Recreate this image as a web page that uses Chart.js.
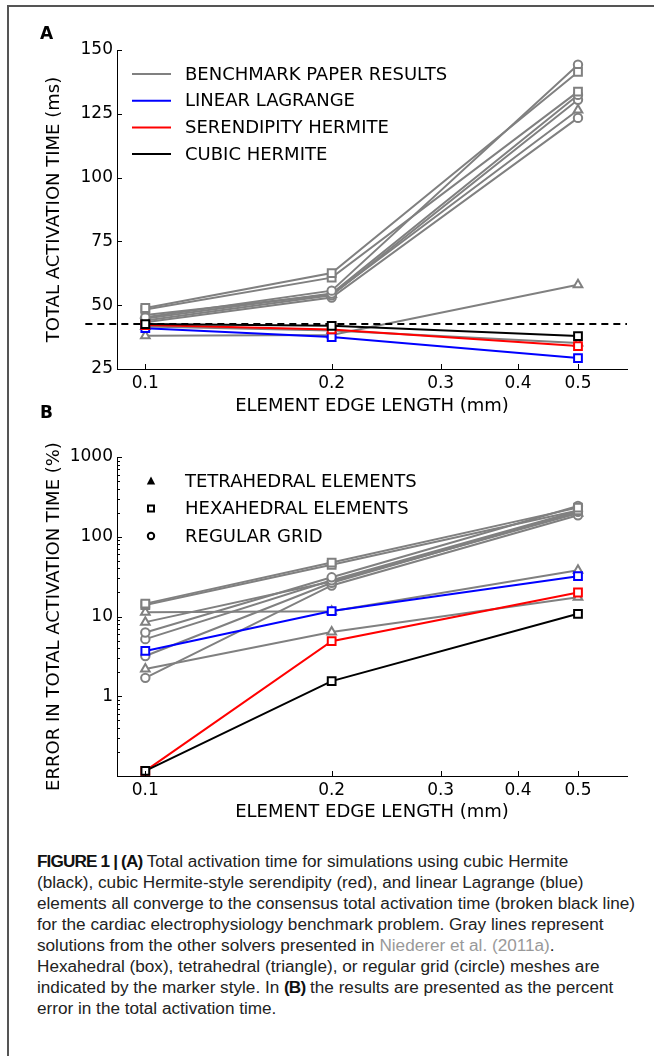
<!DOCTYPE html>
<html>
<head>
<meta charset="utf-8">
<script src="https://cdn.jsdelivr.net/npm/chart.js@4.4.0/dist/chart.umd.min.js"></script>
<style>
  html, body { margin: 0; padding: 0; background: #fff; }
  body { width: 654px; height: 1056px; position: relative; overflow: hidden; }
  #frame { position: absolute; left: 7px; top: 5px; width: 700px; height: 1100px;
           border-top: 2px solid #555; border-left: 2px solid #555; }
  canvas { position: absolute; left: 0; }
  .plabel { position: absolute; font: bold 17px "DejaVu Sans"; line-height: 20px; color: #000; }
  #caption { position: absolute; left: 37px; top: 851px; font: 16px "Liberation Sans", Arial, sans-serif;
             line-height: 21px; color: #222; white-space: nowrap; transform-origin: 0 0; }
  #caption b { font-weight: bold; color: #111; letter-spacing: -0.8px; }
  #caption .ref { color: #999; }
</style>
</head>
<body>
<div id="frame"></div>
<canvas id="chartA" width="654" height="425" style="top:0"></canvas>
<canvas id="chartB" width="654" height="405" style="top:425px"></canvas>
<div class="plabel" style="left:40px; top:23px">A</div>
<div class="plabel" style="left:40px; top:402px">B</div>
<div id="caption">
  <div><b>FIGURE 1 | (A)</b> Total activation time for simulations using cubic Hermite</div>
  <div>(black), cubic Hermite-style serendipity (red), and linear Lagrange (blue)</div>
  <div id="capWide">elements all converge to the consensus total activation time (broken black line)</div>
  <div>for the cardiac electrophysiology benchmark problem. Gray lines represent</div>
  <div>solutions from the other solvers presented in <span class="ref">Niederer et al. (2011a)</span>.</div>
  <div>Hexahedral (box), tetrahedral (triangle), or regular grid (circle) meshes are</div>
  <div>indicated by the marker style. In <b>(B)</b> the results are presented as the percent</div>
  <div>error in the total activation time.</div>
</div>
<script>
// element edge length (mm)
const edgeLengths = [0.1, 0.2, 0.5];
const xTickValues = [0.1, 0.2, 0.3, 0.4, 0.5];

// panel A: total activation time (ms)
const consensusTime = 42.6;
const timeCubicHermite = [42.6, 41.9, 37.9];
const timeSerendipity = [42.2, 40.5, 34.0];
const timeLinearLagrange = [41.0, 37.5, 29.3];

// benchmark paper solvers (gray), one marker per mesh type
const benchmarkMarkers = ['rect', 'rect', 'circle', 'circle', 'circle', 'circle', 'triangle', 'triangle', 'triangle'];
const timeBenchmark = [
  [48.9, 62.6, 141.4],
  [48.3, 60.8, 133.7],
  [45.3, 55.7, 144.2],
  [44.8, 54.6, 132.4],
  [44.0, 53.9, 130.5],
  [43.3, 53.0, 123.4],
  [46.2, 54.2, 126.5],
  [38.0, 38.3, 58.0],
  [41.7, 40.1, 35.2]
];

// panel B: error in total activation time (%)
const errCubicHermite = [0.116, 1.55, 10.8];
const errSerendipity = [0.116, 4.9, 20.0];
const errLinearLagrange = [3.7, 11.7, 32.0];
const errBenchmark = [
  [14.5, 47.5, 232],
  [13.9, 44.5, 214],
  [6.3, 31.0, 243],
  [5.2, 28.5, 210],
  [3.2, 26.5, 206],
  [1.7, 24.5, 186],
  [8.5, 27.5, 197],
  [11.3, 11.6, 38],
  [2.2, 6.4, 17.4]
];
const errTickValues = [1, 10, 100, 1000];

const GRAY = '#808080';
const FONT = 'DejaVu Sans';
Chart.defaults.font.family = FONT;
Chart.defaults.color = '#000';

const markerRadius = { rect: 5.5, circle: 4.2, triangle: 5 };

function series(values, color, style) {
  return {
    data: edgeLengths.map((x, i) => ({ x: x, y: values[i] })),
    borderColor: color,
    borderWidth: 2,
    pointStyle: style,
    pointRadius: markerRadius[style],
    pointBorderWidth: 2,
    pointBorderColor: color,
    pointBackgroundColor: '#fff',
    tension: 0,
    clip: false
  };
}

// inward tick marks like the original matplotlib axes
function inwardTicks(yMinor) {
  return {
    id: 'inwardTicks',
    afterDatasetsDraw(chart) {
      const { ctx, chartArea, scales } = chart;
      ctx.save();
      ctx.strokeStyle = '#000';
      ctx.lineWidth = 1;
      ctx.beginPath();
      scales.x.ticks.forEach(t => {
        const px = Math.round(scales.x.getPixelForValue(t.value)) + 0.5;
        ctx.moveTo(px, chartArea.bottom);
        ctx.lineTo(px, chartArea.bottom - 5);
      });
      scales.y.ticks.forEach(t => {
        const py = Math.round(scales.y.getPixelForValue(t.value)) + 0.5;
        ctx.moveTo(chartArea.left, py);
        ctx.lineTo(chartArea.left + 5, py);
      });
      yMinor.forEach(v => {
        const py = Math.round(scales.y.getPixelForValue(v)) + 0.5;
        ctx.moveTo(chartArea.left, py);
        ctx.lineTo(chartArea.left + 3, py);
      });
      ctx.stroke();
      ctx.restore();
    }
  };
}

// legend drawn inside the plot area
function figLegend(items) {
  return {
    id: 'figLegend',
    afterDraw(chart) {
      const { ctx, chartArea } = chart;
      ctx.save();
      ctx.font = '18px "' + FONT + '"';
      ctx.textBaseline = 'middle';
      ctx.fillStyle = '#000';
      items.forEach((it, i) => {
        const y = chartArea.top + 24 + i * it.step;
        if (it.line) {
          ctx.strokeStyle = it.line;
          ctx.lineWidth = 2;
          ctx.beginPath();
          ctx.moveTo(chartArea.left + 15, y);
          ctx.lineTo(chartArea.left + 54, y);
          ctx.stroke();
        } else {
          const cx = chartArea.left + 34;
          ctx.strokeStyle = '#000';
          ctx.lineWidth = 2;
          ctx.beginPath();
          if (it.marker === 'triangle') {
            ctx.moveTo(cx, y - 4.5);
            ctx.lineTo(cx + 4.2, y + 3.5);
            ctx.lineTo(cx - 4.2, y + 3.5);
            ctx.closePath();
            ctx.fill();
          } else if (it.marker === 'rect') {
            ctx.rect(cx - 3, y - 3, 6, 6);
            ctx.stroke();
          } else {
            ctx.arc(cx, y, 3.2, 0, Math.PI * 2);
            ctx.stroke();
          }
        }
        ctx.fillStyle = '#000';
        ctx.fillText(it.label, chartArea.left + 68, y + 1);
      });
      ctx.restore();
    }
  };
}

function xAxis(boxHeight, titlePad) {
  return {
    type: 'logarithmic',
    min: 0.09,
    max: 0.6,
    afterBuildTicks: s => { s.ticks = xTickValues.map(v => ({ value: v })); },
    afterFit: s => { s.height = boxHeight; },
    ticks: { callback: v => String(v), font: { size: 17 }, padding: 4, autoSkip: false, maxRotation: 0 },
    grid: { display: false, drawTicks: false },
    border: { display: true, color: '#000', width: 1 },
    title: { display: true, text: 'ELEMENT EDGE LENGTH (mm)', font: { size: 18 }, padding: { top: 0, bottom: titlePad } }
  };
}

function yTitle(text) {
  return { display: true, text: text, font: { size: 18 }, padding: { top: 44, bottom: 0 } };
}

function allSeries(hermite, seren, lagrange, bench, extra) {
  const sets = [
    series(hermite, '#000', 'rect'),
    series(seren, '#f00', 'rect'),
    series(lagrange, '#00f', 'rect')
  ];
  extra.forEach(e => sets.push(e));
  bench.forEach((vals, i) => sets.push(series(vals, GRAY, benchmarkMarkers[i])));
  return sets;
}

const consensusLine = {
  data: [{ x: 0.08, y: consensusTime }, { x: 0.6, y: consensusTime }],
  borderColor: '#000',
  borderWidth: 2,
  borderDash: [7, 5],
  pointRadius: 0,
  clip: false
};

const baseOptions = {
  responsive: false,
  animation: false,
  events: [],
  plugins: { legend: { display: false }, tooltip: { enabled: false } }
};

new Chart(document.getElementById('chartA'), {
  type: 'line',
  data: { datasets: allSeries(timeCubicHermite, timeSerendipity, timeLinearLagrange, timeBenchmark, [consensusLine]) },
  options: Object.assign({}, baseOptions, {
    layout: { padding: { left: 0, top: 50, right: 27, bottom: 0 } },
    scales: {
      x: xAxis(425 - 369, 8),
      y: {
        type: 'linear', min: 25, max: 150,
        afterFit: s => { s.width = 117; },
        ticks: { stepSize: 25, font: { size: 17 }, padding: 4 },
        grid: { display: false, drawTicks: false },
        border: { display: true, color: '#000', width: 1 },
        title: yTitle('TOTAL ACTIVATION TIME (ms)')
      }
    }
  }),
  plugins: [inwardTicks([]), figLegend([
    { label: 'BENCHMARK PAPER RESULTS', line: GRAY, step: 26.7 },
    { label: 'LINEAR LAGRANGE', line: '#00f', step: 26.7 },
    { label: 'SERENDIPITY HERMITE', line: '#f00', step: 26.7 },
    { label: 'CUBIC HERMITE', line: '#000', step: 26.7 }
  ])]
});

const errMinor = [];
[0.1, 1, 10, 100].forEach(d => { for (let k = 2; k <= 9; k++) errMinor.push(d * k); });

new Chart(document.getElementById('chartB'), {
  type: 'line',
  data: { datasets: allSeries(errCubicHermite, errSerendipity, errLinearLagrange, errBenchmark, []) },
  options: Object.assign({}, baseOptions, {
    layout: { padding: { left: 0, top: 32, right: 27, bottom: 0 } },
    scales: {
      x: xAxis(405 - 351, 7),
      y: {
        type: 'logarithmic', min: 0.1, max: 1000,
        afterBuildTicks: s => { s.ticks = errTickValues.map(v => ({ value: v })); },
        afterFit: s => { s.width = 117; },
        ticks: { callback: v => String(v), font: { size: 17 }, padding: 4, autoSkip: false },
        grid: { display: false, drawTicks: false },
        border: { display: true, color: '#000', width: 1 },
        title: yTitle('ERROR IN TOTAL ACTIVATION TIME (%)')
      }
    }
  }),
  plugins: [inwardTicks(errMinor), figLegend([
    { label: 'TETRAHEDRAL ELEMENTS', marker: 'triangle', step: 27.5 },
    { label: 'HEXAHEDRAL ELEMENTS', marker: 'rect', step: 27.5 },
    { label: 'REGULAR GRID', marker: 'circle', step: 27.5 }
  ])]
});

// fit the caption's widest line to the width seen in the figure
const cap = document.getElementById('caption');
const wide = document.getElementById('capWide');
const range = document.createRange();
range.selectNodeContents(wide);
const w = range.getBoundingClientRect().width;
cap.style.transform = 'scaleX(' + (598 / w) + ')';
</script>
</body>
</html>
